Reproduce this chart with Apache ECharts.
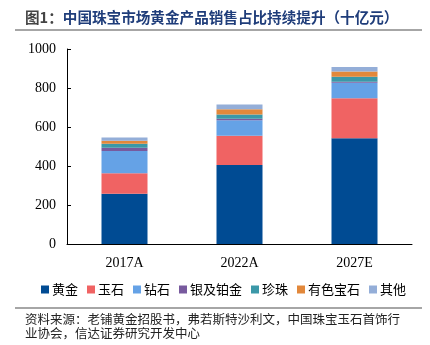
<!DOCTYPE html>
<html><head><meta charset="utf-8">
<script src="https://cdn.jsdelivr.net/npm/echarts@6/dist/echarts.min.js"></script>
<style>html,body{margin:0;padding:0;background:#fff}#c{width:430px;height:345px}</style>
</head><body><div id="c"></div>
<script>
const categories = ['2017A', '2022A', '2027E'];
const gold = [258, 405, 542];
const jade = [105, 150, 205];
const diamond = [114, 80, 80];
const silverPlatinum = [17, 7, 5];
const pearl = [20, 22, 26];
const coloredGem = [15, 27, 26];
const other = [17, 24, 24];
const yTicks = [0, 200, 400, 600, 800, 1000];

const seriesDefs = [
  ['黄金', gold, '#004B93'],
  ['玉石', jade, '#F06363'],
  ['钻石', diamond, '#65A2E6'],
  ['银及铂金', silverPlatinum, '#785A9E'],
  ['珍珠', pearl, '#3B98A8'],
  ['有色宝石', coloredGem, '#E2883B'],
  ['其他', other, '#94AED8']
];

const chart = echarts.init(document.getElementById('c'));
const serif = '"Liberation Serif", "DejaVu Serif", serif';
const cjk = '"Noto Sans CJK SC", sans-serif';
chart.setOption({
  animation: false,
  grid: {left: 67, right: 18, top: 49, bottom: 101},
  xAxis: {
    type: 'category', data: categories,
    axisLine: {lineStyle: {color: '#000', width: 1}},
    axisTick: {show: false},
    axisLabel: {color: '#000', fontFamily: serif, fontSize: 14, margin: 12}
  },
  yAxis: {
    type: 'value', min: 0, max: 1000, interval: 200,
    axisLine: {show: true, lineStyle: {color: '#000', width: 1}},
    axisTick: {show: true, inside: true, length: 4, lineStyle: {color: '#000'}},
    splitLine: {show: false},
    axisLabel: {color: '#000', fontFamily: serif, fontSize: 14, margin: 11,
      formatter: v => yTicks.includes(v) ? String(v) : ''}
  },
  legend: {
    left: 36, top: 278, itemWidth: 8, itemHeight: 8, itemGap: 9,
    icon: 'rect',
    textStyle: {fontFamily: cjk, fontSize: 13, color: '#000', padding: [0,0,0,-2]},
    data: seriesDefs.map(d => d[0])
  },
  series: seriesDefs.map(d => ({
    name: d[0], type: 'bar', stack: 'total', data: d[1], barWidth: '40%',
    itemStyle: {color: d[2]}
  })),
  graphic: [
    {type: 'text', left: 25, top: 10, style: {
      text: '{a|图1：}{b|中国珠宝市场黄金产品销售占比持续提升（十亿元）}',
      rich: {
        a: {fontFamily: cjk, fontSize: 14.6, fontWeight: 'bold', fill: '#444'},
        b: {fontFamily: cjk, fontSize: 14.6, fontWeight: 'bold', fill: '#1F3D7A'}
      }
    }},
    {type: 'line', shape: {x1: 15, y1: 30, x2: 422, y2: 30}, style: {stroke: '#888', lineWidth: 1.5}},
    {type: 'line', shape: {x1: 15, y1: 308, x2: 422, y2: 308}, style: {stroke: '#888', lineWidth: 1.5}},
    {type: 'text', left: 25, top: 312, style: {
      text: '资料来源：老铺黄金招股书，弗若斯特沙利文，中国珠宝玉石首饰行\n业协会，信达证券研究开发中心',
      fontFamily: cjk, fontSize: 12.5, fill: '#222', lineHeight: 14
    }}
  ]
});
</script></body></html>
